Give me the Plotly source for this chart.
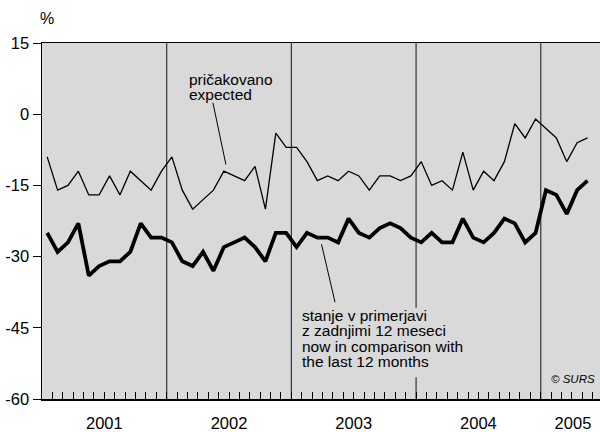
import plotly.graph_objects as go

# ---- data -------------------------------------------------------------
years = ["2001", "2002", "2003", "2004", "2005"]
months_per_year = [12, 12, 12, 12, 5]

expected = [
    -9, -16, -15, -12, -17, -17, -13, -17, -12, -14, -16, -12,   # 2001
    -9, -16, -20, -18, -16, -12, -13, -14, -11, -20, -4, -7,     # 2002
    -7, -10, -14, -13, -14, -12, -13, -16, -13, -13, -14, -13,   # 2003
    -10, -15, -14, -16, -8, -16, -12, -14, -10, -2, -5, -1,      # 2004
    -3, -5, -10, -6, -5,                                         # 2005
]
current = [
    -25, -29, -27, -23, -34, -32, -31, -31, -29, -23, -26, -26,  # 2001
    -27, -31, -32, -29, -33, -28, -27, -26, -28, -31, -25, -25,  # 2002
    -28, -25, -26, -26, -27, -22, -25, -26, -24, -23, -24, -26,  # 2003
    -27, -25, -27, -27, -22, -26, -27, -25, -22, -23, -27, -25,  # 2004
    -16, -17, -21, -16, -14,                                     # 2005
]
y_tick_vals = [-60, -45, -30, -15, 0, 15]
y_tick_text = ["-60", "-45", "-30", "-15", "0", "15"]

# ---- derived positions (month index axis) ----------------------------
x_pos = [i + 0.5 for i in range(len(expected))]
x_end = 53.7
year_starts = []
acc = 0
for n in months_per_year:
    year_starts.append(acc)
    acc += 12
year_centers = [s + 6 for s in year_starts[:-1]] + [year_starts[-1] + (x_end - year_starts[-1]) / 2 + 0.25]

FONT = "Liberation Sans, Arial, Helvetica, sans-serif"
BG = "#d9d9d9"

fig = go.Figure()
fig.add_trace(go.Scatter(x=x_pos, y=expected, mode="lines",
                         line=dict(color="black", width=1.3), xaxis="x", yaxis="y",
                         name="pričakovano"))
fig.add_trace(go.Scatter(x=x_pos, y=current, mode="lines",
                         line=dict(color="black", width=3.8), xaxis="x2", yaxis="y",
                         name="stanje"))

shapes = []
for s in year_starts[1:]:
    shapes.append(dict(type="line", xref="x", yref="paper", x0=s, x1=s, y0=0, y1=1,
                       line=dict(color="#333333", width=1.2), layer="below"))
# background box behind the lower label
shapes.append(dict(type="rect", xref="x", yref="y", x0=24.6, x1=38.3, y0=-55.4, y1=-40.8,
                   fillcolor=BG, line=dict(width=0), layer="below"))
# pointer lines
shapes.append(dict(type="line", xref="x", yref="y", x0=16.45, x1=17.7, y0=2.4, y1=-10.6,
                   line=dict(color="black", width=1)))
shapes.append(dict(type="line", xref="x", yref="y", x0=26.9, x1=28.2, y0=-27.4, y1=-39.6,
                   line=dict(color="black", width=1)))

ann_font = dict(family=FONT, size=15.5, color="black")
annotations = [
    dict(text="%", xref="paper", yref="paper", x=0.0084, y=1.070, showarrow=False,
         xanchor="center", yanchor="middle", font=dict(family=FONT, size=16, color="black")),
    dict(text="pričakovano", xref="x", yref="y", x=13.98, y=7.35, showarrow=False,
         xanchor="left", yanchor="middle", font=ann_font),
    dict(text="expected", xref="x", yref="y", x=13.98, y=4.2, showarrow=False,
         xanchor="left", yanchor="middle", font=ann_font),
]
lower_lines = ["stanje v primerjavi", "z zadnjimi 12 meseci",
               "now in comparison with", "the last 12 months"]
lower_y = [-42.4, -45.67, -48.93, -52.2]
for t, yv in zip(lower_lines, lower_y):
    annotations.append(dict(text=t, xref="x", yref="y", x=24.83, y=yv, showarrow=False,
                            xanchor="left", yanchor="middle", font=ann_font))
annotations.append(dict(text="<i>© SURS</i>", xref="paper", yref="paper", x=0.9946, y=0.055,
                        showarrow=False, xanchor="right", yanchor="middle",
                        font=dict(family=FONT, size=11.5, color="black")))

fig.update_layout(
    width=600, height=432,
    margin=dict(l=42, r=0, t=43, b=33),
    plot_bgcolor=BG, paper_bgcolor="white",
    showlegend=False,
    font=dict(family=FONT, color="black"),
    xaxis=dict(range=[0, x_end], tickmode="linear", tick0=0, dtick=1,
               ticks="inside", ticklen=7, tickcolor="black", tickwidth=1,
               showticklabels=False, showline=True, linecolor="black", linewidth=1.5,
               mirror=True, showgrid=False, zeroline=False),
    xaxis2=dict(range=[0, x_end], overlaying="x", anchor="y", side="bottom",
                tickmode="array", tickvals=year_centers, ticktext=years, ticks="",
                showline=False, showgrid=False, zeroline=False,
                tickfont=dict(family=FONT, size=16.5, color="black"),
                ticklabelstandoff=12),
    yaxis=dict(range=[-60, 15], tickmode="array", tickvals=y_tick_vals, ticktext=y_tick_text,
               ticks="outside", ticklen=8, tickcolor="black", tickwidth=1,
               showline=True, linecolor="black", linewidth=1.5,
               showgrid=False, zeroline=False,
               tickfont=dict(family=FONT, size=16.5, color="black")),
    shapes=shapes,
    annotations=annotations,
)

fig.write_html("out.html",
               config={"displayModeBar": False, "staticPlot": True},
               post_script="document.body.style.margin='0px';document.body.style.padding='0px';document.body.style.overflow='hidden';")
